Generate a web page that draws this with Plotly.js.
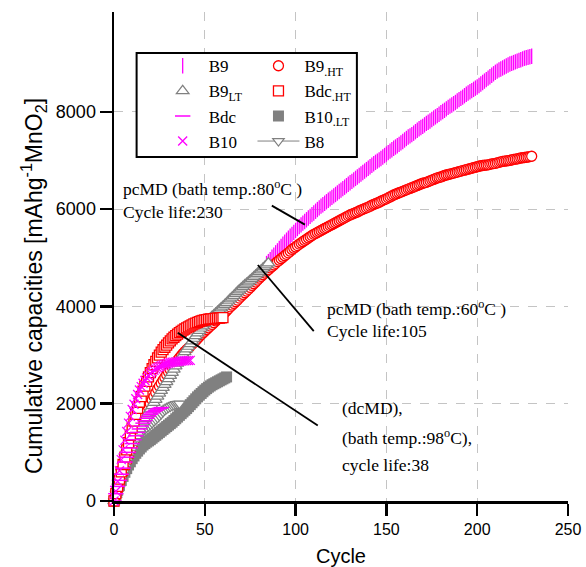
<!DOCTYPE html>
<html>
<head>
<meta charset="utf-8">
<script src="https://cdn.plot.ly/plotly-3.0.1.min.js"></script>
<style>html,body{margin:0;padding:0;background:#fff;}#chart{width:586px;height:567px;}</style>
</head>
<body>
<div id="chart"></div>
<script>
// ---- data (cumulative capacity per cycle) ----
// B9.HT: cycles 0..230
const firstCycleB9HT = 0, stepB9HT = 1;
const valB9HT = [0,115,230,350,470,585,700,815,930,1040,1150,1240,1330,1420,1510,1595,1680,1765,1850,1925,
  2000,2075,2150,2225,2300,2360,2420,2480,2540,2595,2650,2700,2750,2800,2850,2895,2940,2985,3030,3070,
  3110,3145,3180,3220,3260,3300,3340,3380,3420,3455,3490,3525,3560,3595,3630,3665,3700,3735,3770,3805,
  3840,3875,3910,3950,3990,4025,4060,4095,4130,4170,4210,4245,4280,4315,4350,4390,4430,4465,4500,4540,
  4580,4615,4650,4685,4720,4755,4790,4820,4850,4885,4920,4950,4980,5010,5040,5070,5100,5135,5170,5195,
  5220,5250,5280,5305,5330,5355,5380,5405,5430,5455,5480,5500,5520,5540,5560,5580,5600,5620,5640,5660,
  5680,5700,5720,5740,5760,5780,5800,5820,5840,5860,5880,5895,5910,5925,5940,5960,5980,5995,6010,6025,
  6040,6060,6080,6095,6110,6125,6140,6160,6180,6195,6210,6230,6250,6270,6290,6305,6320,6335,6350,6365,
  6380,6395,6410,6425,6440,6455,6470,6485,6500,6515,6530,6540,6550,6565,6580,6595,6610,6625,6640,6650,
  6660,6675,6690,6700,6710,6720,6730,6740,6750,6760,6770,6780,6790,6800,6810,6820,6830,6840,6850,6860,
  6870,6880,6890,6895,6900,6905,6910,6920,6930,6935,6940,6950,6960,6970,6980,6985,6990,6995,7000,7010,
  7020,7025,7030,7040,7050,7055,7060,7065,7070,7078,7085];

// B9: cycles 84..230
const firstCycleB9 = 84, stepB9 = 1;
const valB9 = [4880,4920,4960,5010,5050,5100,5140,5190,5230,5280,5320,5360,5400,5440,5480,5520,5560,5600,5640,5675,
  5710,5745,5780,5815,5850,5885,5920,5955,5990,6025,6060,6090,6120,6150,6180,6210,6240,6270,6300,6330,
  6360,6390,6420,6450,6480,6510,6540,6570,6600,6630,6660,6690,6720,6750,6780,6810,6840,6870,6900,6930,
  6960,6985,7010,7040,7070,7100,7130,7160,7190,7220,7250,7275,7300,7330,7360,7390,7420,7450,7480,7505,
  7530,7560,7590,7620,7650,7675,7700,7730,7760,7785,7810,7840,7870,7895,7920,7950,7980,8005,8030,8060,
  8090,8115,8140,8165,8190,8220,8250,8275,8300,8330,8360,8385,8410,8435,8460,8485,8510,8540,8570,8600,
  8630,8660,8690,8720,8750,8780,8810,8835,8860,8880,8900,8920,8940,8960,8980,8995,9010,9025,9040,9055,
  9070,9085,9100,9110,9120,9130,9140];

// B9.LT: cycles 0..85
const firstCycleB9LT = 0, stepB9LT = 1;
const valB9LT = [0,130,260,390,520,645,770,885,1000,1100,1200,1270,1340,1410,1480,1550,1620,1690,1760,1825,
  1890,1955,2020,2085,2150,2210,2270,2330,2390,2450,2510,2575,2640,2705,2770,2830,2890,2950,3010,3065,
  3120,3175,3230,3285,3340,3395,3450,3500,3550,3595,3640,3680,3720,3755,3790,3825,3860,3895,3930,3965,
  4000,4035,4070,4110,4150,4185,4220,4260,4300,4335,4370,4405,4440,4470,4500,4535,4570,4605,4640,4675,
  4710,4745,4780,4815,4850,4890];

// Bdc.HT: cycles 0..60
const firstCycleBdcHT = 0, stepBdcHT = 1;
const valBdcHT = [0,150,300,450,600,750,900,1050,1200,1350,1500,1640,1780,1905,2030,2145,2260,2360,2460,2550,
  2640,2720,2800,2870,2940,3000,3060,3110,3160,3205,3250,3290,3330,3365,3400,3430,3460,3485,3510,3535,
  3560,3580,3600,3620,3640,3655,3670,3685,3700,3710,3720,3728,3735,3740,3745,3750,3755,3758,3760,3765,3770];

// B10.LT: cycles 0..62
const firstCycleB10LT = 0, stepB10LT = 1;
const valB10LT = [0,110,220,320,420,505,590,665,740,805,870,925,980,1025,1070,1110,1150,1180,1210,1235,
  1260,1290,1320,1350,1380,1410,1440,1470,1500,1530,1560,1590,1620,1655,1690,1725,1760,1795,1830,1865,
  1900,1940,1980,2020,2060,2100,2140,2175,2210,2245,2280,2310,2340,2365,2390,2410,2430,2450,2470,2490,
  2510,2530,2550];

// B8: cycles 0..36
const firstCycleB8 = 0, stepB8 = 1;
const valB8 = [0,150,300,450,600,750,900,990,1080,1140,1200,1245,1290,1330,1370,1405,1440,1475,1510,1540,
  1570,1605,1640,1675,1710,1750,1790,1830,1870,1895,1920,1940,1960,1975,1990,1995,2000];

// B10: cycles 0..42
const firstCycleB10 = 0, stepB10 = 1;
const valB10 = [0,200,400,620,850,1050,1250,1430,1600,1740,1880,1990,2100,2190,2280,2350,2420,2475,2530,2575,
  2620,2655,2690,2715,2740,2760,2780,2795,2810,2820,2830,2840,2850,2855,2860,2865,2870,2875,2880,2882,
  2885,2888,2890];

// Bdc: cycles 0..26
const firstCycleBdc = 0, stepBdc = 1;
const valBdc = [0,150,300,425,550,675,800,900,1000,1090,1180,1260,1340,1410,1480,1540,1600,1650,1700,1740,
  1780,1810,1840,1865,1890,1905,1920];

const xTicks = [0,50,100,150,200,250];
const yTicks = [0,2000,4000,6000,8000];

// ---- styling ----
const MAG = '#ff00ff', RED = '#ff0000', GRAY = '#808080';
const traces = [
  {name:'B10<sub>.LT</sub>', x0:firstCycleB10LT, dx:stepB10LT, y:valB10LT, mode:'markers', legend:'legend2', legendrank:3,
   marker:{symbol:'square', size:11, color:GRAY, line:{width:0}}},
  {name:'B8', x0:firstCycleB8, dx:stepB8, y:valB8, mode:'lines+markers', legend:'legend2', legendrank:4,
   line:{color:GRAY, width:1},
   marker:{symbol:'triangle-down', size:10, color:'white', line:{color:GRAY, width:1.2}}},
  {name:'B9', x0:firstCycleB9, dx:stepB9, y:valB9, mode:'markers', legend:'legend', legendrank:1,
   marker:{symbol:'line-ns-open', size:11, color:MAG, line:{color:MAG, width:1.3}}},
  {name:'B9<sub>.HT</sub>', x0:firstCycleB9HT, dx:stepB9HT, y:valB9HT, mode:'markers', legend:'legend2', legendrank:1,
   marker:{symbol:'circle', size:10, color:'white', line:{color:RED, width:1.3}}},
  {name:'B9<sub>LT</sub>', x0:firstCycleB9LT, dx:stepB9LT, y:valB9LT, mode:'markers', legend:'legend', legendrank:2,
   marker:{symbol:'triangle-up', size:11, color:'white', line:{color:GRAY, width:1.2}}},
  {name:'Bdc<sub>.HT</sub>', x0:firstCycleBdcHT, dx:stepBdcHT, y:valBdcHT, mode:'markers', legend:'legend2', legendrank:2,
   marker:{symbol:'square', size:10, color:'white', line:{color:RED, width:1.3}}},
  {name:'Bdc', x0:firstCycleBdc, dx:stepBdc, y:valBdc, mode:'markers', legend:'legend', legendrank:3,
   marker:{symbol:'line-ew-open', size:11, color:MAG, line:{color:MAG, width:1.5}}},
  {name:'B10', x0:firstCycleB10, dx:stepB10, y:valB10, mode:'markers', legend:'legend', legendrank:4,
   marker:{symbol:'x-thin-open', size:9, color:MAG, line:{color:MAG, width:1.3}}}
];
traces.forEach(t => { t.cliponaxis = false; t.type = 'scatter'; });

const serif = 'Liberation Serif, Times New Roman, serif';
const sans = 'Liberation Sans, Arial, sans-serif';
const annFont = {family: serif, size: 17.5, color: 'black'};

function txt(x, y, s) {
  return {x:x, y:y, xref:'x', yref:'y', text:s, showarrow:false, xanchor:'left', yanchor:'middle', font:annFont};
}
function seg(x0, y0, x1, y1) {
  return {type:'line', xref:'x', yref:'y', x0:x0, y0:y0, x1:x1, y1:y1, line:{color:'black', width:1.8}};
}

const legendCommon = {
  font:{family: serif, size: 17, color:'black'},
  bgcolor:'rgba(0,0,0,0)', borderwidth:0, xanchor:'left', yanchor:'top',
  traceorder:'normal', tracegroupgap:0, itemwidth:42
};

const layout = {
  width:586, height:567,
  margin:{l:114, r:18, t:12, b:66, pad:0},
  paper_bgcolor:'white', plot_bgcolor:'white',
  font:{family: sans, color:'black'},
  showlegend:true,
  legend: Object.assign({x:0.094, y:0.926}, legendCommon),
  legend2: Object.assign({x:0.305, y:0.926}, legendCommon),
  xaxis:{
    range:[0,250], tickvals:xTicks, ticks:'outside', ticklen:12, tickwidth:2.5, tickcolor:'black',
    showline:true, linewidth:2.5, linecolor:'black', zeroline:false,
    showgrid:true, gridcolor:'#c4c4c4', gridwidth:1, griddash:'dash',
    tickfont:{family: sans, size:16, color:'black'},
    title:{text:'Cycle', font:{family: sans, size:20, color:'black'}, standoff:16}
  },
  yaxis:{
    range:[0,10050], tickvals:yTicks, ticks:'outside', ticklen:12, tickwidth:2.5, tickcolor:'black',
    showline:true, linewidth:2.5, linecolor:'black', zeroline:false,
    showgrid:true, gridcolor:'#c4c4c4', gridwidth:1, griddash:'dash',
    tickfont:{family: sans, size:18, color:'black'}
  },
  shapes:[
    {type:'rect', xref:'paper', yref:'paper', x0:0.0498, x1:0.535, y0:0.7037, y1:0.916,
     line:{color:'black', width:2}, fillcolor:'white', layer:'above'},
    seg(86.9, 6070, 105.1, 5680),
    seg(79.2, 4850, 110.0, 3490),
    seg(35.1, 3460, 112.2, 1550)
  ],
  annotations:[
    {x:-0.178, y:0.44, xref:'paper', yref:'paper', textangle:-90, showarrow:false,
     xanchor:'center', yanchor:'middle',
     text:'Cumulative capacities [mAhg<sup>-1</sup>MnO<sub>2</sub>]',
     font:{family: sans, size:23, color:'black'}},
    txt(3.9, 6440, 'pcMD (bath temp.:80<sup>o</sup>C )'),
    txt(3.9, 5930, 'Cycle life:230'),
    txt(116, 3973, 'pcMD (bath temp.:60<sup>o</sup>C )'),
    txt(116, 3486, 'Cycle life:105'),
    txt(124.4, 1918, '(dcMD),'),
    txt(124.4, 1322, '(bath temp.:98<sup>o</sup>C),'),
    txt(124.4, 747, 'cycle life:38')
  ]
};

Plotly.newPlot('chart', traces, layout, {staticPlot:true, displayModeBar:false});
</script>
</body>
</html>
